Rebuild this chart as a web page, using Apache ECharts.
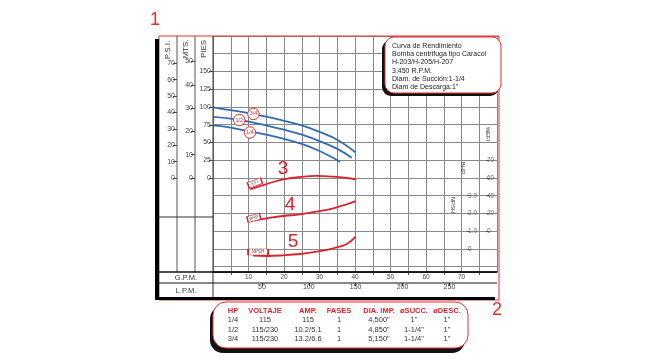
<!DOCTYPE html>
<html><head><meta charset="utf-8">
<script src="https://cdn.jsdelivr.net/npm/echarts@6/dist/echarts.min.js"></script>
<style>html,body{margin:0;padding:0;background:#fff}#c{width:650px;height:361px}</style>
</head><body><div id="c"></div>
<script>
// ---- data ----
const head34Gpm = [0,5,10,15,20,25,30,35,40.2];
const head34 = [99.5,95.5,91.5,86.5,80.5,74,65,54,36];
const head12Gpm = [0,5,10,15,20,25,30,35,39.1];
const head12 = [86,83.5,79.5,74,68,61,52,41,28.5];
const head14Gpm = [0,5,10,15,20,25,30,35.8];
const head14 = [74,71,66,61,55,48,38,23];
const effGpm = [10.4,15.1,19.8,24.5,29.2,33.9,37.7,40.2];
const eff = [47.3,53.2,58.5,61.1,62.3,61.5,60.0,58.5];
const bhpGpm = [10.4,15.1,19.8,24.5,29.2,33.9,37.7,40.2];
const bhp = [1.58,1.73,1.86,1.95,2.10,2.29,2.52,2.70];
const npshGpm = [11.3,15.1,19.8,24.5,29.2,33.9,37.7,40.2];
const npsh = [3.11,3.03,3.23,3.59,4.24,5.20,6.41,8.46];
const headLabels = ['3/4','1/2','1/4'];
const headLabelPos = [[11.4,90.2],[7.4,81.6],[10.4,64.1]];
const curveLabels = ['EFI','BHP','NPSH'];
const curveLabelPos = [[11.8,54.4],[11.5,1.75],[12.7,4.15]];
const piesTicks = [0,25,50,75,100,125,150];
const mtsTicks = [0,10,20,30,40,50];
const psiTicks = [0,10,20,30,40,50,60,70];
const gpmTicks = [10,20,30,40,50,60,70];
const gpmMinorTicks = [5,15,25,35,45,55,65,75];
const lpmTicks = [50,100,150,200,250];
const effTicks = [0,20,40,60,80];
const effTickLabels = ['0','20','40','60','70'];
const bhpTicks = [0,1,2,3];
const bhpTickLabels = ['0','1.0','2.0','3.0'];
const infoLines = ['Curva de Rendimiento','Bomba centrifuga tipo Caracol','H-203/H-205/H-207','3.450 R.P.M.','Diam. de Succión:1-1/4','Diam de Descarga:1"'];
const tableHeader = ['HP','VOLTAJE','AMP.','FASES','DIA. IMP.','øSUCC.','øDESC.'];
const tableRows = [
  ['1/4','115','115','1','4,500"','1"','1"'],
  ['1/2','115/230','10.2/5.1','1','4,850"','1-1/4"','1"'],
  ['3/4','115/230','13.2/6.6','1','5,150"','1-1/4"','1"']
];

// ---- styling ----
const RED = '#e3312d', BLUE = '#2f6cb3', CRED = '#d8242a', GRIDC = '#888888', FONT = 'Liberation Sans';
const zip = (xs, ys) => xs.map((x, i) => [x, ys[i]]);
const lbl = (extra) => Object.assign({fontSize:7, color:'#444', fontFamily:FONT, margin:2}, extra);

const headMark = (i) => ({
  symbol:'circle', symbolSize:11.5, silent:true,
  itemStyle:{color:'#fff', borderColor:RED, borderWidth:1},
  label:{show:true, position:'inside', formatter:'{b}', fontSize:5.5, color:RED, fontFamily:FONT},
  data:[{name:headLabels[i], coord:headLabelPos[i]}]
});
const boxMark = (i, w, rot) => ({
  symbol:'rect', symbolSize:[w,6], symbolRotate:rot, silent:true,
  itemStyle:{color:'#fff', borderColor:CRED, borderWidth:1},
  label:{show:true, position:'inside', formatter:'{b}', fontSize:4.5, color:'#555', rotate:rot, fontFamily:FONT},
  data:[{name:curveLabels[i], coord:curveLabelPos[i]}]
});

const graphics = [];
const line = (x1,y1,x2,y2,color,w,z) => graphics.push({type:'line', silent:true, z:z||10, shape:{x1,y1,x2,y2}, style:{stroke:color, lineWidth:w}});
const text = (t,x,y,o) => graphics.push(Object.assign({type:'text', silent:true, z:60, x, y, style:Object.assign({text:t, fill:'#333', font:'7px '+FONT, align:'center', verticalAlign:'middle'}, (o&&o.style)||{})}, o?{rotation:o.rotation||0}:{}));

// frame
graphics.push({type:'rect', silent:true, z:5, shape:{x:159,y:36,width:340,height:264}, style:{fill:'none', stroke:RED, lineWidth:1}});
graphics.push({type:'rect', silent:true, z:12, shape:{x:155,y:39,width:4,height:261}, style:{fill:'#000'}});
graphics.push({type:'rect', silent:true, z:12, shape:{x:155,y:297,width:340,height:3}, style:{fill:'#000'}});
line(177,36,177,272,'#555',1); line(195,36,195,272,'#555',1); line(213,36,213,298,'#333',1);
line(159,217,213,217,'#333',1);
line(159,272,497,272,'#111',1.5); line(159,283,497,283,'#111',1);
// axis names
text('P.S.I.',168,50,{rotation:Math.PI/2, style:{font:'8px '+FONT}});
text('MTS.',186,49,{rotation:Math.PI/2, style:{font:'8px '+FONT}});
text('PIES',204,49,{rotation:Math.PI/2, style:{font:'8px '+FONT}});
text('G.P.M.',186,277.5,{style:{font:'7.5px '+FONT}});
text('L.P.M.',186,290.5,{style:{font:'7.5px '+FONT}});
text('%EFI',488,134,{rotation:-Math.PI/2, style:{font:'6px '+FONT}});
text('BHP',463,168,{rotation:-Math.PI/2, style:{font:'6px '+FONT}});
text('NPSH',453,205,{rotation:-Math.PI/2, style:{font:'6px '+FONT}});
// red numbers
text('1',155,20,{style:{font:'18px '+FONT, fill:RED}});
text('2',497,310,{style:{font:'18px '+FONT, fill:RED}});
text('3',283,169,{style:{font:'19px '+FONT, fill:CRED}});
text('4',290,205,{style:{font:'19px '+FONT, fill:CRED}});
text('5',293,242,{style:{font:'19px '+FONT, fill:CRED}});
// info box
graphics.push({type:'rect', silent:true, z:50, shape:{x:382,y:40,width:117,height:56,r:9}, style:{fill:'#111'}});
graphics.push({type:'rect', silent:true, z:51, shape:{x:385,y:37,width:116,height:56,r:9}, style:{fill:'#fff', stroke:RED, lineWidth:1}});
infoLines.forEach((t,i) => text(t,392,45.7+i*8.3,{style:{align:'left', font:'7px '+FONT, fill:'#222'}}));
// table box
graphics.push({type:'rect', silent:true, z:50, shape:{x:210,y:306,width:255,height:47,r:13}, style:{fill:'#111'}});
graphics.push({type:'rect', silent:true, z:51, shape:{x:213,y:302,width:255,height:46,r:13}, style:{fill:'#fff', stroke:RED, lineWidth:1}});
const colX = [233,265,308,339,379,414,447];
tableHeader.forEach((t,i) => text(t,colX[i],311,{style:{font:'bold 7.5px '+FONT, fill:CRED}}));
tableRows.forEach((r,j) => r.forEach((t,i) => text(t,colX[i],320+j*9.7,{style:{font:'7.5px '+FONT, fill:'#333'}})));

const option = {
  animation:false,
  grid:[{left:213, top:36, width:284, height:236, show:false},
        {left:215, top:272, width:284, height:11, show:false}],
  xAxis:[
    {gridIndex:0, type:'value', min:0, max:80, interval:5, position:'bottom',
     axisLine:{onZero:false, lineStyle:{color:'#111', width:1.5}}, axisTick:{show:false}, axisLabel:{show:false},
     splitLine:{show:true, lineStyle:{color:GRIDC, width:1}}},
    {gridIndex:0, type:'value', min:0, max:80, position:'bottom',
     axisLine:{show:false, onZero:false}, axisTick:{show:true, customValues:gpmMinorTicks, length:3, lineStyle:{color:'#555'}},
     axisLabel:lbl({customValues:gpmTicks, fontSize:6.5, margin:2}), splitLine:{show:false}},
    {gridIndex:1, type:'value', min:0, max:302.83, position:'bottom',
     axisLine:{show:false, onZero:false}, axisTick:{show:true, customValues:lpmTicks, length:3, lineStyle:{color:'#333'}},
     axisLabel:lbl({customValues:lpmTicks, margin:1}), splitLine:{show:false}}
  ],
  yAxis:[
    {gridIndex:0, type:'value', inverse:true, min:0, max:13.296, interval:1,
     axisLine:{show:false}, axisTick:{show:false}, axisLabel:{show:false}, splitLine:{show:true, lineStyle:{color:GRIDC, width:1}}},
    {gridIndex:0, type:'value', position:'left', offset:0, min:-132.394, max:200,
     axisLine:{show:false, onZero:false}, axisTick:{show:true, customValues:piesTicks, length:4, lineStyle:{color:'#444'}},
     axisLabel:lbl({customValues:piesTicks}), splitLine:{show:false}},
    {gridIndex:0, type:'value', position:'left', offset:18, min:-40.354, max:60.961,
     axisLine:{show:false, onZero:false}, axisTick:{show:true, customValues:mtsTicks, length:4, lineStyle:{color:'#444'}},
     axisLabel:lbl({customValues:mtsTicks}), splitLine:{show:false}},
    {gridIndex:0, type:'value', position:'left', offset:36, min:-57.313, max:86.580,
     axisLine:{show:false, onZero:false}, axisTick:{show:true, customValues:psiTicks, length:4, lineStyle:{color:'#444'}},
     axisLabel:lbl({customValues:psiTicks}), splitLine:{show:false}},
    {gridIndex:0, type:'value', position:'right', offset:-11, min:-45.92, max:220,
     axisLine:{show:false, onZero:false}, axisTick:{show:true, customValues:effTicks, length:3, lineStyle:{color:'#555'}},
     axisLabel:lbl({customValues:effTicks, margin:1, fontSize:6.5, color:'#666', formatter:(v)=>effTickLabels[effTicks.indexOf(v)]}), splitLine:{show:false}},
    {gridIndex:0, type:'value', position:'right', offset:-30, min:-1.296, max:12,
     axisLine:{show:false, onZero:false}, axisTick:{show:true, customValues:bhpTicks, length:3, lineStyle:{color:'#555'}},
     axisLabel:lbl({customValues:bhpTicks, margin:1, fontSize:6.5, color:'#666', formatter:(v)=>bhpTickLabels[bhpTicks.indexOf(v)]}), splitLine:{show:false}},
    {gridIndex:0, type:'value', show:false, min:-1.479, max:65},
    {gridIndex:1, type:'value', show:false, min:0, max:1}
  ],
  series:[
    {type:'line', xAxisIndex:0, yAxisIndex:1, data:zip(head34Gpm, head34), smooth:0.4, showSymbol:false, lineStyle:{color:BLUE, width:1.8}, markPoint:headMark(0), z:3},
    {type:'line', xAxisIndex:0, yAxisIndex:1, data:zip(head12Gpm, head12), smooth:0.4, showSymbol:false, lineStyle:{color:BLUE, width:1.8}, markPoint:headMark(1), z:3},
    {type:'line', xAxisIndex:0, yAxisIndex:1, data:zip(head14Gpm, head14), smooth:0.4, showSymbol:false, lineStyle:{color:BLUE, width:1.8}, markPoint:headMark(2), z:3},
    {type:'line', xAxisIndex:0, yAxisIndex:4, data:zip(effGpm, eff), smooth:0.4, showSymbol:false, lineStyle:{color:CRED, width:1.8}, markPoint:boxMark(0,14,20), z:3},
    {type:'line', xAxisIndex:0, yAxisIndex:5, data:zip(bhpGpm, bhp), smooth:0.4, showSymbol:false, lineStyle:{color:CRED, width:1.8}, markPoint:boxMark(1,13,15), z:3},
    {type:'line', xAxisIndex:0, yAxisIndex:6, data:zip(npshGpm, npsh), smooth:0.4, showSymbol:false, lineStyle:{color:CRED, width:1.8}, markPoint:boxMark(2,20,0), z:3}
  ],
  graphic:{elements:graphics}
};
const chart = echarts.init(document.getElementById('c'));
chart.setOption(option);
</script>
</body></html>
